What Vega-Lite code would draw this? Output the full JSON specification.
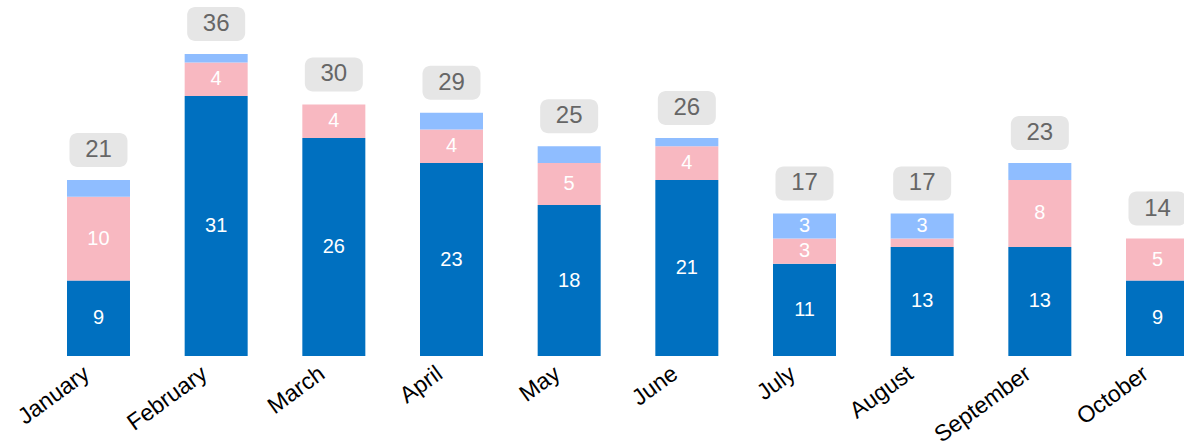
{
  "$schema": "https://vega.github.io/schema/vega-lite/v6.json",
  "width": 1184,
  "height": 356,
  "autosize": "none",
  "padding": {"left": 0, "top": 0, "right": 0, "bottom": 91},
  "config": {"view": {"stroke": null}, "font": "Liberation Sans"},
  "data": {
    "values": [
      {"month": "January", "series": "A", "ord": 1, "value": 9},
      {"month": "January", "series": "B", "ord": 2, "value": 10},
      {"month": "January", "series": "C", "ord": 3, "value": 2},
      {"month": "February", "series": "A", "ord": 1, "value": 31},
      {"month": "February", "series": "B", "ord": 2, "value": 4},
      {"month": "February", "series": "C", "ord": 3, "value": 1},
      {"month": "March", "series": "A", "ord": 1, "value": 26},
      {"month": "March", "series": "B", "ord": 2, "value": 4},
      {"month": "March", "series": "C", "ord": 3, "value": 0},
      {"month": "April", "series": "A", "ord": 1, "value": 23},
      {"month": "April", "series": "B", "ord": 2, "value": 4},
      {"month": "April", "series": "C", "ord": 3, "value": 2},
      {"month": "May", "series": "A", "ord": 1, "value": 18},
      {"month": "May", "series": "B", "ord": 2, "value": 5},
      {"month": "May", "series": "C", "ord": 3, "value": 2},
      {"month": "June", "series": "A", "ord": 1, "value": 21},
      {"month": "June", "series": "B", "ord": 2, "value": 4},
      {"month": "June", "series": "C", "ord": 3, "value": 1},
      {"month": "July", "series": "A", "ord": 1, "value": 11},
      {"month": "July", "series": "B", "ord": 2, "value": 3},
      {"month": "July", "series": "C", "ord": 3, "value": 3},
      {"month": "August", "series": "A", "ord": 1, "value": 13},
      {"month": "August", "series": "B", "ord": 2, "value": 1},
      {"month": "August", "series": "C", "ord": 3, "value": 3},
      {"month": "September", "series": "A", "ord": 1, "value": 13},
      {"month": "September", "series": "B", "ord": 2, "value": 8},
      {"month": "September", "series": "C", "ord": 3, "value": 2},
      {"month": "October", "series": "A", "ord": 1, "value": 9},
      {"month": "October", "series": "B", "ord": 2, "value": 5},
      {"month": "October", "series": "C", "ord": 3, "value": 0}
    ]
  },
  "encoding": {
    "x": {
      "field": "month",
      "type": "nominal",
      "sort": ["January","February","March","April","May","June","July","August","September","October"],
      "scale": {"range": [67, 1189], "paddingInner": 0.4646, "paddingOuter": 0, "align": 0},
      "axis": {"title": null, "domain": false, "ticks": false, "grid": false, "labelAngle": -36, "labelFontSize": 23, "labelColor": "#000000", "labelPadding": 6, "labelOffset": -18, "labelAlign": "right", "labelBaseline": "top", "labelFont": "Liberation Sans", "labelOverlap": false}
    }
  },
  "layer": [
    {
      "mark": {"type": "bar"},
      "encoding": {
        "y": {"field": "value", "type": "quantitative", "stack": "zero", "scale": {"domain": [0, 42.45], "nice": false, "zero": true}, "axis": null},
        "color": {"field": "series", "type": "nominal", "scale": {"domain": ["A","B","C"], "range": ["#0070c0", "#f8b8c1", "#8fbdff"]}, "legend": null},
        "order": {"field": "ord", "type": "quantitative"}
      }
    },
    {
      "transform": [
        {"stack": "value", "groupby": ["month"], "sort": [{"field": "ord"}], "as": ["y0", "y1"]},
        {"calculate": "(datum.y0 + datum.y1) / 2", "as": "mid"},
        {"filter": "datum.value >= 3"}
      ],
      "mark": {"type": "text", "color": "#ffffff", "fontSize": 20, "align": "center", "baseline": "middle"},
      "encoding": {
        "y": {"field": "mid", "type": "quantitative", "scale": {"domain": [0, 42.45], "nice": false, "zero": true}, "axis": null},
        "text": {"field": "value", "type": "quantitative"}
      }
    },
    {
      "transform": [{"aggregate": [{"op": "sum", "field": "value", "as": "total"}], "groupby": ["month"]}],
      "mark": {"type": "bar", "width": 58, "cornerRadius": 8, "color": "#e6e6e6", "yOffset": -47, "y2Offset": -13},
      "encoding": {
        "y": {"field": "total", "type": "quantitative", "scale": {"domain": [0, 42.45], "nice": false, "zero": true}, "axis": null},
        "y2": {"field": "total"}
      }
    },
    {
      "transform": [{"aggregate": [{"op": "sum", "field": "value", "as": "total"}], "groupby": ["month"]}],
      "mark": {"type": "text", "color": "#666666", "fontSize": 24, "align": "center", "baseline": "middle", "dy": -30},
      "encoding": {
        "y": {"field": "total", "type": "quantitative", "scale": {"domain": [0, 42.45], "nice": false, "zero": true}, "axis": null},
        "text": {"field": "total", "type": "quantitative"}
      }
    }
  ]
}
